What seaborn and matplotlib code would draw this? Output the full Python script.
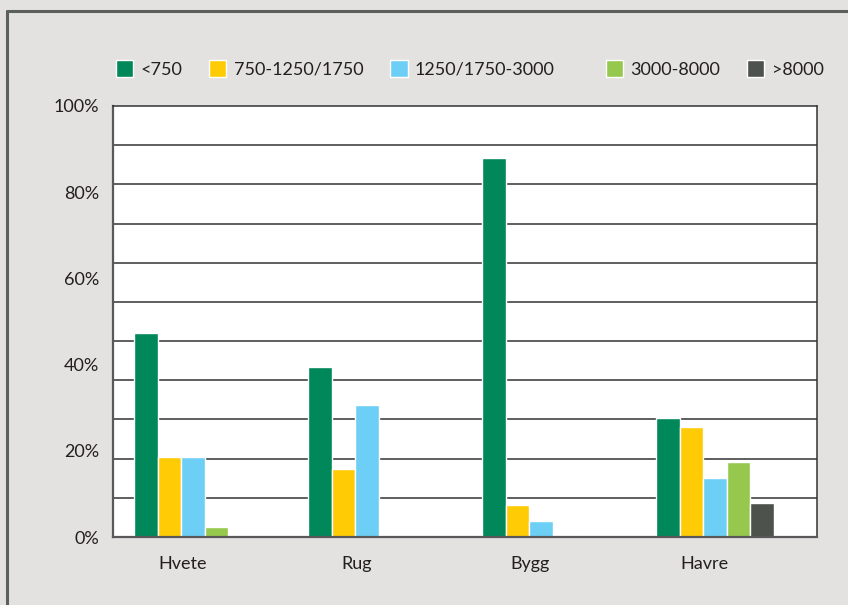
import numpy as np
import pandas as pd
import matplotlib
matplotlib.use('Agg')
import matplotlib.pyplot as plt
import seaborn as sns
from matplotlib.lines import Line2D
from matplotlib.ticker import FixedLocator

# Values (% of area per size class)
crops = ['Hvete', 'Rug', 'Bygg', 'Havre']
size_classes = ['<750', '750-1250/1750', '1250/1750-3000', '3000-8000', '>8000']
lt750 = [47.4, 39.5, 87.9, 27.5]
s750_1750 = [18.6, 15.8, 7.4, 25.5]
s1750_3000 = [18.6, 30.6, 3.7, 13.7]
s3000_8000 = [2.4, 0.0, 0.5, 17.4]
gt8000 = [0.0, 0.0, 0.0, 7.9]
y_ticks = [0, 20, 40, 60, 80, 100]

colors = ['#00875a', '#ffcb05', '#6dcff6', '#97c84e', '#4d524c']
bg = '#e3e2e0'

series = [lt750, s750_1750, s1750_3000, s3000_8000, gt8000]
rows = []
for cls, vals in zip(size_classes, series):
    for crop, v in zip(crops, vals):
        rows.append({'crop': crop, 'size': cls, 'share': v})
df = pd.DataFrame(rows)

sns.set_theme(style='white')
plt.rcParams['font.family'] = ['Lato', 'DejaVu Sans']
plt.rcParams['text.color'] = '#231f20'

fig = plt.figure(figsize=(8.48, 6.05), dpi=100, facecolor=bg)
ax = fig.add_axes([113 / 848, 1 - 537 / 605, (817 - 113) / 848, (537 - 106) / 605])
ax.set_facecolor('white')

sns.barplot(data=df, x='crop', y='share', hue='size', hue_order=size_classes,
            palette=colors, width=0.675, saturation=1, ax=ax)

handles, labels = ax.get_legend_handles_labels()
ax.get_legend().remove()

ax.set_xlim(-0.459, 3.587)
ax.set_ylim(0, 100)
ax.set_xlabel('')
ax.set_ylabel('')

ax.set_yticks(y_ticks)
ax.set_yticklabels([f'{t}%' for t in y_ticks])
ax.yaxis.set_minor_locator(FixedLocator(np.arange(1, 11) * 100 / 11))
ax.grid(False)
ax.grid(which='minor', axis='y', color='#333333', linewidth=1.1)
ax.set_axisbelow(True)

ax.set_xticks(np.arange(len(crops)) - 0.06)
ax.set_xticklabels(crops)
ax.tick_params(axis='both', which='both', length=0, labelsize=13, colors='#231f20')
ax.tick_params(axis='y', pad=10)
ax.tick_params(axis='x', pad=14)

for side in ['left', 'bottom']:
    ax.spines[side].set_color('#59595b')
    ax.spines[side].set_linewidth(1.6)
for side in ['top', 'right']:
    ax.spines[side].set_color('#333333')
    ax.spines[side].set_linewidth(1.1)

# Legend split in two groups to keep the wider gap before "3000-8000"
leg_kw = dict(loc='center left', ncol=3, frameon=False, fontsize=13,
              handlelength=0.95, handleheight=1.0, handletextpad=0.4,
              columnspacing=1.5, borderpad=0, borderaxespad=0)
fig.legend(handles[:3], labels[:3], bbox_to_anchor=(116 / 848, 1 - 69 / 605), **leg_kw)
leg_kw['ncol'] = 2
fig.legend(handles[3:], labels[3:], bbox_to_anchor=(606 / 848, 1 - 69 / 605), **leg_kw)

# Outer frame: dark line along the top and the left edge
border = '#5c605c'
fig.add_artist(Line2D([6.5 / 848, 1], [1 - 11 / 605, 1 - 11 / 605], color=border, linewidth=2.2))
fig.add_artist(Line2D([7 / 848, 7 / 848], [0, 1 - 11 / 605], color=border, linewidth=2.2))

fig.savefig('out.png', dpi=100, facecolor=bg)
